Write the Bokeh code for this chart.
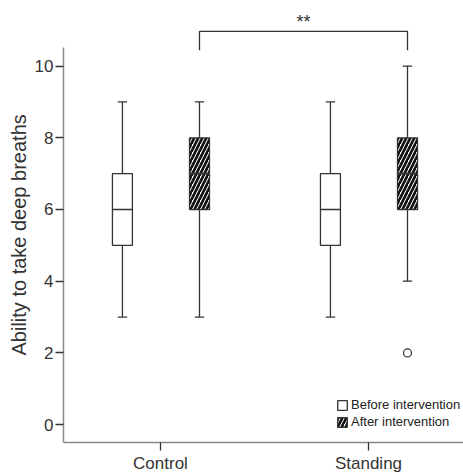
from bokeh.plotting import figure
from bokeh.models import (ColumnDataSource, FixedTicker, Legend, LegendItem, Range1d, Label, Title)
from bokeh.embed import file_html
from bokeh.resources import INLINE

# ---- data ----
groups = ["Control", "Standing"]
series = ["Before intervention", "After intervention"]
# per box: group index, series
box_group = [1, 1, 2, 2]
box_series = ["Before intervention", "After intervention", "Before intervention", "After intervention"]
whisker_low = [3, 3, 3, 4]
q1 = [5, 6, 5, 6]
median = [6, 7, 6, 7]
q3 = [7, 8, 7, 8]
whisker_high = [9, 9, 9, 10]
outlier_box = [3]
outlier_value = [2]
y_ticks = [0, 2, 4, 6, 8, 10]
sig_pair = [1, 3]  # boxes compared
sig_label = "**"
y_title = "Ability to take deep breaths"

# ---- styling constants ----
offsets = {"Before intervention": -0.183, "After intervention": 0.1875}
box_w = 0.096
cap_w = 0.045
ink = "#333333"
axis_col = "#8a8a8a"
FONT = "Liberation Sans"
Y0, Y1 = -0.5, 11.83

xs = [g + offsets[s] for g, s in zip(box_group, box_series)]

p = figure(width=463, height=475, output_backend="svg", toolbar_location=None,
           x_range=Range1d(0.5337, 2.4567), y_range=Range1d(Y0, Y1),
           min_border_left=63, min_border_right=0, min_border_top=0, min_border_bottom=29)
p.outline_line_color = None
p.grid.visible = False
p.background_fill_color = "white"

# whiskers
p.segment(x0=xs, y0=q3, x1=xs, y1=whisker_high, line_color=ink, line_width=1.3)
p.segment(x0=xs, y0=q1, x1=xs, y1=whisker_low, line_color=ink, line_width=1.3)
p.segment(x0=[x - cap_w / 2 for x in xs], y0=whisker_high, x1=[x + cap_w / 2 for x in xs], y1=whisker_high,
          line_color=ink, line_width=1.3)
p.segment(x0=[x - cap_w / 2 for x in xs], y0=whisker_low, x1=[x + cap_w / 2 for x in xs], y1=whisker_low,
          line_color=ink, line_width=1.3)

# boxes
idx_b = [i for i, s in enumerate(box_series) if s == series[0]]
idx_a = [i for i, s in enumerate(box_series) if s == series[1]]
src_b = ColumnDataSource(dict(x=[xs[i] for i in idx_b], top=[q3[i] for i in idx_b], bottom=[q1[i] for i in idx_b]))
src_a = ColumnDataSource(dict(x=[xs[i] for i in idx_a], top=[q3[i] for i in idx_a], bottom=[q1[i] for i in idx_a]))
r_b = p.vbar(x="x", top="top", bottom="bottom", width=box_w, source=src_b,
             fill_color="white", line_color=ink, line_width=1.3)
r_a = p.vbar(x="x", top="top", bottom="bottom", width=box_w, source=src_a,
             fill_color="white", line_color=ink, line_width=1.3,
             hatch_pattern="/", hatch_color="#111111", hatch_scale=8, hatch_weight=2.7)
# medians
p.segment(x0=[x - box_w / 2 for x in xs], y0=median, x1=[x + box_w / 2 for x in xs], y1=median,
          line_color=ink, line_width=1.6)

# outliers
p.scatter(x=[xs[i] for i in outlier_box], y=outlier_value, size=8, marker="circle",
          fill_color="white", line_color=ink, line_width=1.2)

# significance bracket
bx0, bx1 = xs[sig_pair[0]], xs[sig_pair[1]]
p.line(x=[bx0, bx0, bx1, bx1], y=[10.44, 10.97, 10.97, 10.44], line_color=ink, line_width=1.3)
p.add_layout(Label(x=(bx0 + bx1) / 2, y=11.5, text=sig_label, text_align="center",
                   text_baseline="top", text_font=FONT, text_font_size="18px", text_color=ink))

# axes
p.yaxis.ticker = FixedTicker(ticks=y_ticks)
p.yaxis.bounds = (Y0, 10.53)
p.xaxis.ticker = FixedTicker(ticks=[1, 2])
p.xaxis.major_label_overrides = {1: groups[0], 2: groups[1]}
for ax in (p.xaxis, p.yaxis):
    ax.axis_line_color = axis_col
    ax.axis_line_width = 1.5
    ax.major_tick_line_color = ink
    ax.major_tick_line_width = 1.3
    ax.major_tick_in = 0
    ax.major_tick_out = 8
    ax.minor_tick_line_color = None
    ax.major_label_text_font = FONT
    ax.major_label_text_font_size = "17px"
    ax.major_label_text_color = ink
    ax.major_label_standoff = 2
p.xaxis.major_label_standoff = 3

# y-axis title as a vertical title in the left panel, starting near the frame bottom
p.add_layout(Title(text=y_title, align="left", offset=87, standoff=4,
                   text_font=FONT, text_font_size="20px", text_font_style="normal",
                   text_color=ink), "left")

legend = Legend(items=[LegendItem(label=series[0], renderers=[r_b]),
                       LegendItem(label=series[1], renderers=[r_a])],
                location=(273, 13), padding=0, margin=0, spacing=2,
                glyph_width=12, glyph_height=12, label_height=12, label_standoff=3,
                label_text_font=FONT, label_text_font_size="13px", label_text_color="#222222",
                border_line_alpha=0, background_fill_alpha=0)
p.add_layout(legend)

open("out.html", "w").write(file_html(p, INLINE))
